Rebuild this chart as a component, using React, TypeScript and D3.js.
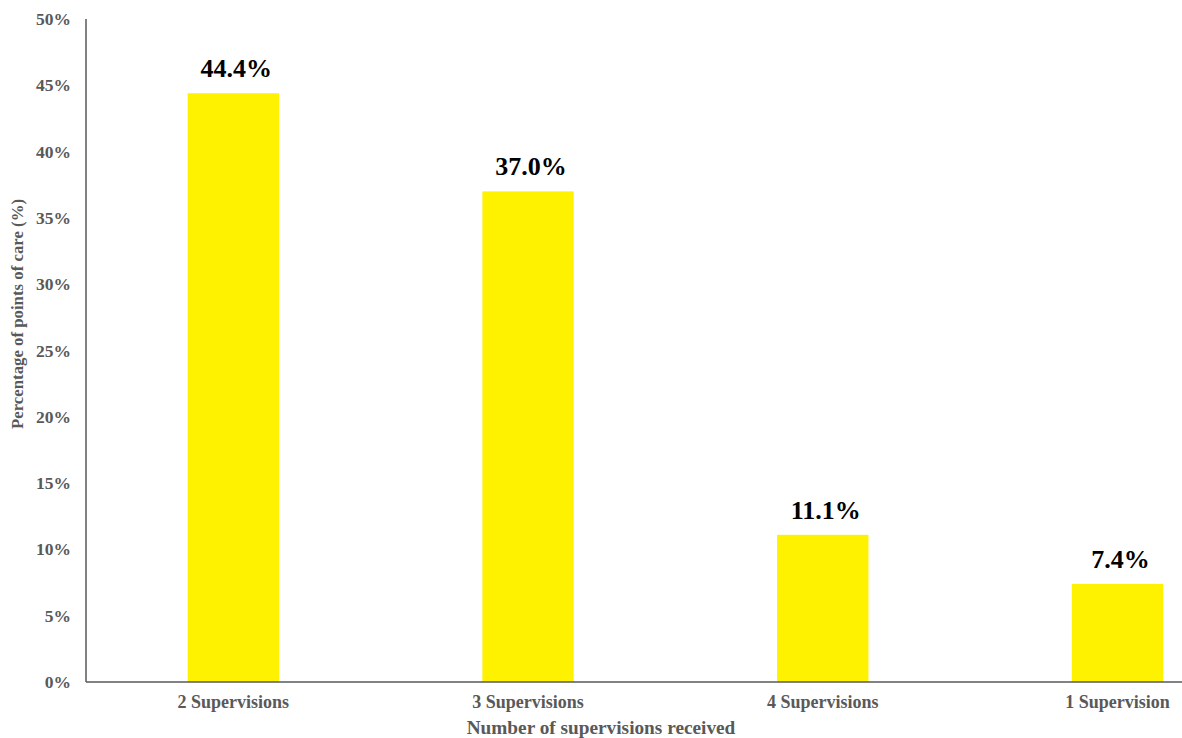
import React from "react";
import * as d3 from "d3";

const categories = ["2 Supervisions", "3 Supervisions", "4 Supervisions", "1 Supervision"];
const values = [44.4, 37.0, 11.1, 7.4];
const yTicks = [0, 5, 10, 15, 20, 25, 30, 35, 40, 45, 50];

const W = 1182;
const H = 738;
const left = 86;
const top = 19;
const bottom = 682;
const step = 294.7;

export default function App() {
  const x = d3
    .scaleBand<string>()
    .domain(categories)
    .range([left, left + step * categories.length])
    .paddingInner(0.69)
    .paddingOuter(0.345);
  const y = d3.scaleLinear().domain([0, 50]).range([bottom, top]);
  const font = "Liberation Serif";
  const gray = "#595959";
  const ts = { fontFamily: font };

  return (
    <svg
      width={W}
      height={H}
      style={{ position: "absolute", left: 0, top: 0, background: "#fff", fontFamily: font }}
    >
      {categories.map((c, i) => (
        <rect
          key={c}
          x={x(c)}
          y={y(values[i])}
          width={x.bandwidth()}
          height={y(0) - y(values[i])}
          fill="#FFF200"
        />
      ))}
      {categories.map((c, i) => (
        <text
          key={"l" + c}
          x={(x(c) as number) + x.bandwidth() / 2 + 3}
          y={y(values[i]) - 16}
          textAnchor="middle"
          fontSize={26}
          fontWeight="bold"
          fill="#000"
          style={ts}
        >
          {values[i].toFixed(1) + "%"}
        </text>
      ))}
      <line x1={left} x2={left} y1={top} y2={bottom} stroke={gray} strokeWidth={1.5} />
      <line x1={left} x2={W} y1={bottom} y2={bottom} stroke={gray} strokeWidth={1.5} />
      {yTicks.map((t) => (
        <text
          key={"t" + t}
          x={71}
          y={y(t) + 6}
          textAnchor="end"
          fontSize={17.5}
          fontWeight="bold"
          fill={gray}
          style={ts}
        >
          {t + "%"}
        </text>
      ))}
      {categories.map((c) => (
        <text
          key={"c" + c}
          x={(x(c) as number) + x.bandwidth() / 2}
          y={708}
          textAnchor="middle"
          fontSize={18}
          fontWeight="bold"
          fill={gray}
          style={ts}
        >
          {c}
        </text>
      ))}
      <text x={601} y={734} textAnchor="middle" fontSize={19.3} fontWeight="bold" fill={gray} style={ts}>
        Number of supervisions received
      </text>
      <text
        transform={`translate(23,314) rotate(-90)`}
        textAnchor="middle"
        fontSize={16.8}
        fontWeight="bold"
        fill={gray}
        style={ts}
      >
        Percentage of points of care (%)
      </text>
    </svg>
  );
}
